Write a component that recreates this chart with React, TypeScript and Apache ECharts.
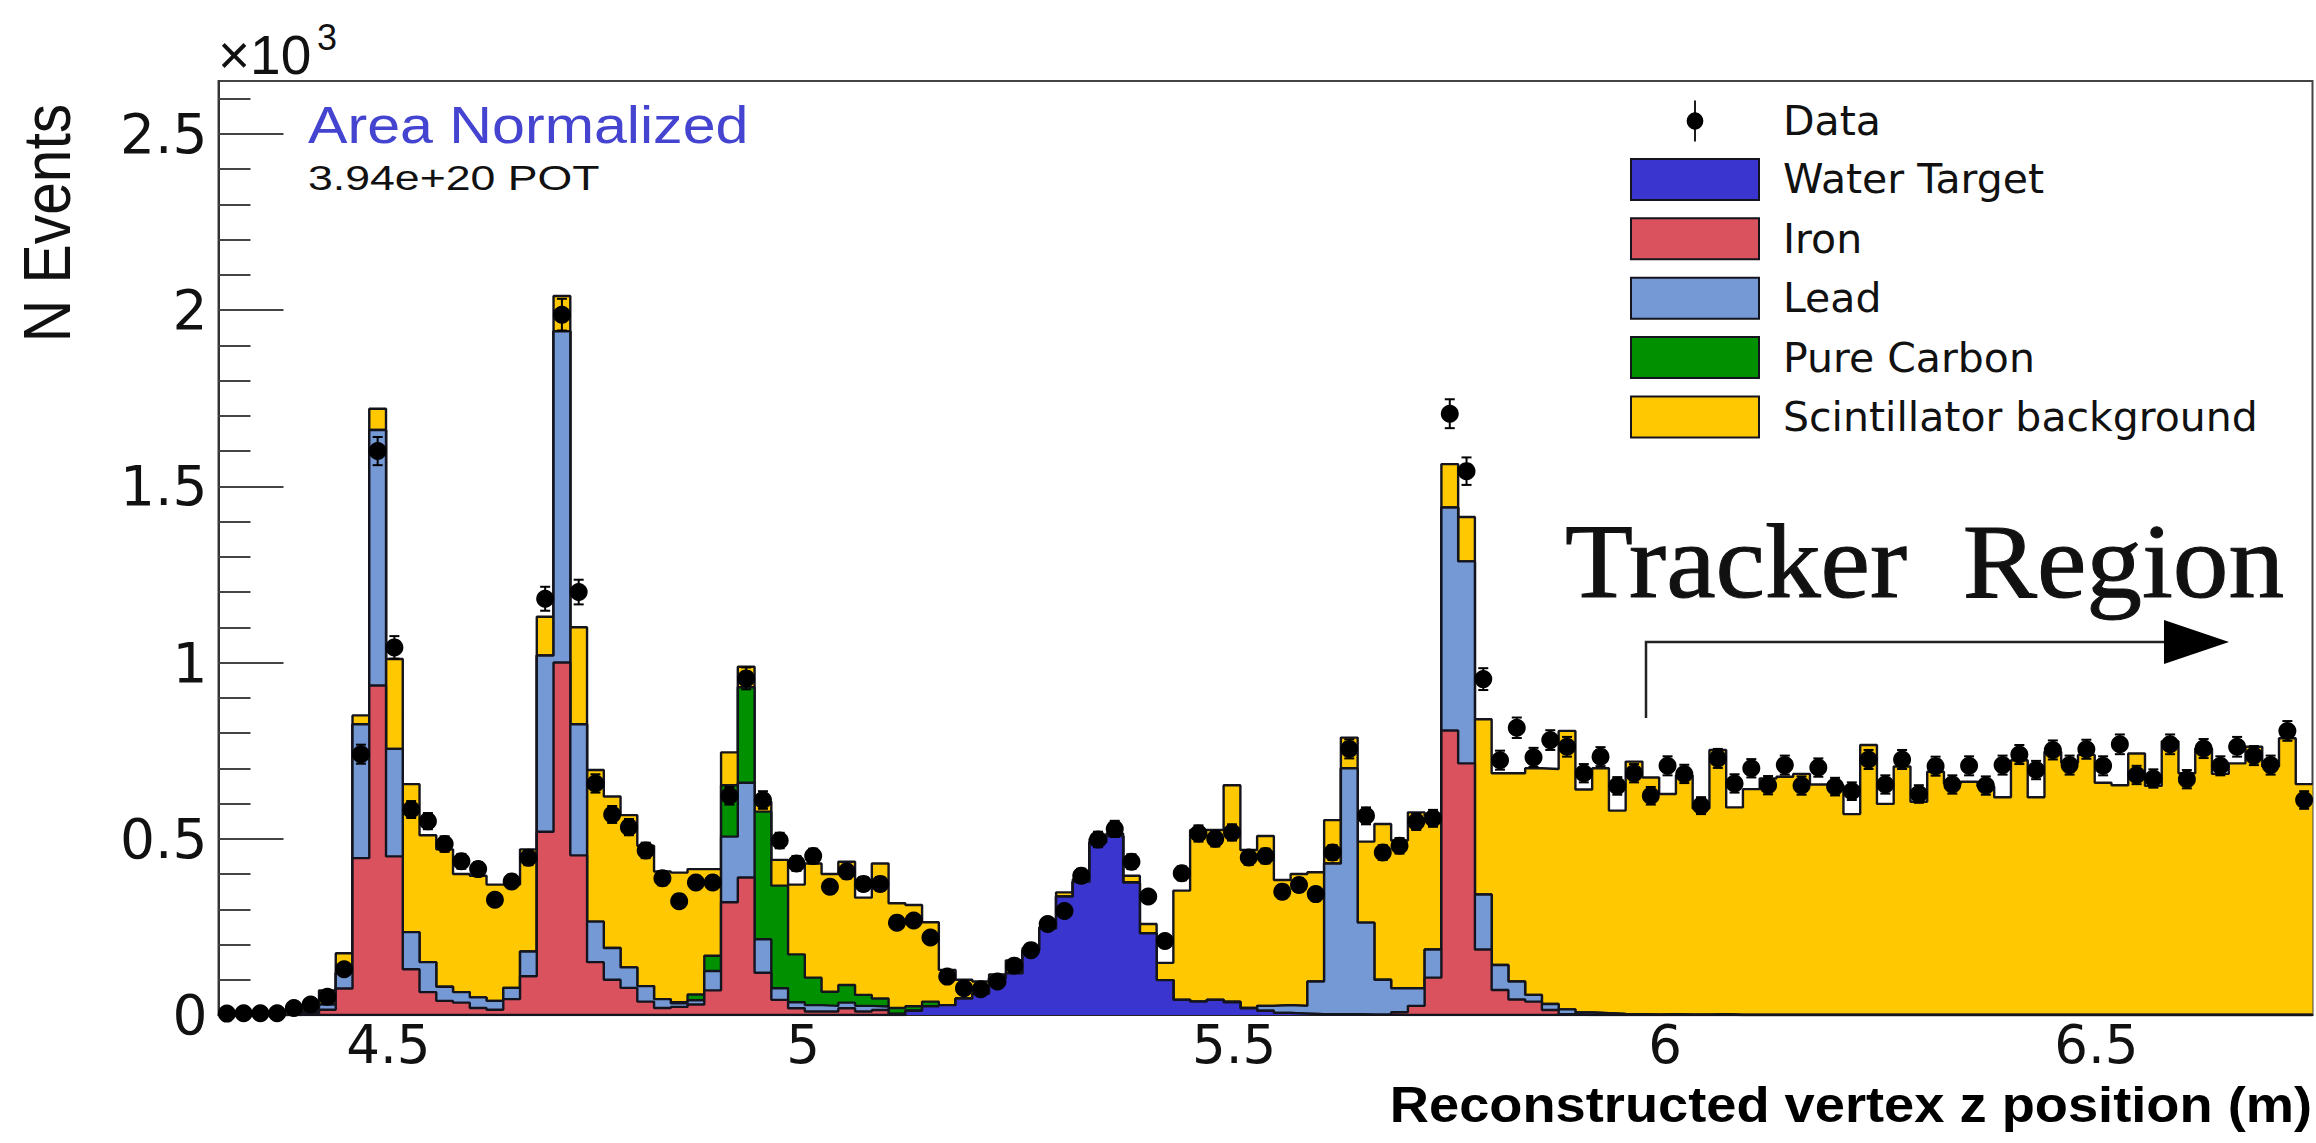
import React, { useEffect, useRef } from 'react';
import * as echarts from 'echarts';

const xMin = 4.322;
const binWidth = 0.01943;
const xMax = xMin + 125 * binWidth;
const yMax = 2.65;
const yTicks = [0, 0.5, 1, 1.5, 2, 2.5];
// the 4.5 label sits a little right of its true spot in the original plot
const xLabelSpots = [4.519, 5, 5.5, 6, 6.5];

// stack heights as THStack keeps them (x10^3 events), each one includes the layers below it
const scintTop = [
  0.002, 0.002, 0.003, 0.005, 0.012, 0.028, 0.07, 0.175, 0.85, 1.72,
  1.01, 0.655, 0.51, 0.47, 0.4, 0.395, 0.37, 0.37, 0.47, 1.13,
  2.04, 1.1, 0.695, 0.62, 0.567, 0.48, 0.407, 0.404, 0.414, 0.414,
  0.745, 0.988, 0.605, 0.44, 0.37, 0.43, 0.4, 0.435, 0.333, 0.43,
  0.317, 0.312, 0.263, 0.128, 0.1, 0.095, 0.115, 0.155, 0.19, 0.25,
  0.348, 0.385, 0.5, 0.515, 0.395, 0.258, 0.148, 0.353, 0.525, 0.525,
  0.652, 0.468, 0.508, 0.383, 0.4, 0.405, 0.553, 0.787, 0.492, 0.542,
  0.495, 0.575, 0.565, 1.563, 1.413, 0.839, 0.686, 0.686, 0.7, 0.698,
  0.806, 0.64, 0.7, 0.58, 0.719, 0.674, 0.627, 0.68, 0.586, 0.752,
  0.589, 0.641, 0.671, 0.676, 0.684, 0.654, 0.652, 0.57, 0.766, 0.599,
  0.705, 0.605, 0.69, 0.657, 0.662, 0.648, 0.618, 0.723, 0.618, 0.747,
  0.716, 0.738, 0.659, 0.652, 0.742, 0.65, 0.777, 0.686, 0.756, 0.684,
  0.714, 0.761, 0.705, 0.785, 0.655,
];
const carbonTop = [
  0, 0, 0, 0, 0.002, 0.01, 0.03, 0.12, 0.825, 1.66,
  0.755, 0.235, 0.15, 0.08, 0.065, 0.05, 0.04, 0.077, 0.18, 1.02,
  1.94, 0.825, 0.265, 0.19, 0.135, 0.082, 0.045, 0.036, 0.058, 0.168,
  0.652, 0.93, 0.577, 0.367, 0.172, 0.106, 0.066, 0.085, 0.057, 0.047,
  0.02, 0.025, 0.038, 0.028, 0.047, 0.06, 0.105, 0.118, 0.184, 0.245,
  0.336, 0.378, 0.49, 0.508, 0.376, 0.232, 0.099, 0.043, 0.038, 0.043,
  0.038, 0.02, 0.026, 0.028, 0.026, 0.095, 0.43, 0.7, 0.262, 0.1,
  0.076, 0.076, 0.186, 1.44, 1.287, 0.342, 0.142, 0.095, 0.057, 0.031,
  0.016, 0.007, 0.005, 0.003, 0.002, 0.001, 0.002, 0.001, 0.001, 0.002,
  0, 0, 0, 0, 0, 0, 0, 0, 0, 0,
  0, 0, 0, 0, 0, 0, 0, 0, 0, 0,
  0, 0, 0, 0, 0, 0, 0, 0, 0, 0,
  0, 0, 0, 0, 0,
];
const leadTop = [
  0, 0, 0, 0, 0.002, 0.01, 0.03, 0.12, 0.825, 1.66,
  0.755, 0.235, 0.15, 0.08, 0.065, 0.05, 0.04, 0.077, 0.18, 1.02,
  1.94, 0.825, 0.265, 0.19, 0.135, 0.082, 0.045, 0.033, 0.042, 0.125,
  0.506, 0.659, 0.215, 0.076, 0.036, 0.028, 0.026, 0.035, 0.026, 0.024,
  0.004, 0.012, 0.025, 0.028, 0.047, 0.06, 0.105, 0.118, 0.184, 0.245,
  0.336, 0.378, 0.49, 0.508, 0.376, 0.232, 0.099, 0.043, 0.038, 0.043,
  0.038, 0.02, 0.026, 0.028, 0.026, 0.095, 0.43, 0.7, 0.262, 0.1,
  0.076, 0.076, 0.186, 1.44, 1.287, 0.342, 0.142, 0.095, 0.057, 0.031,
  0.016, 0.007, 0.005, 0.003, 0.002, 0.001, 0.002, 0.001, 0.001, 0.002,
  0, 0, 0, 0, 0, 0, 0, 0, 0, 0,
  0, 0, 0, 0, 0, 0, 0, 0, 0, 0,
  0, 0, 0, 0, 0, 0, 0, 0, 0, 0,
  0, 0, 0, 0, 0,
];
const ironTop = [
  0, 0, 0, 0, 0, 0.005, 0.015, 0.075, 0.445, 0.935,
  0.45, 0.13, 0.065, 0.04, 0.035, 0.02, 0.015, 0.045, 0.11, 0.52,
  1.0, 0.453, 0.15, 0.1, 0.077, 0.038, 0.02, 0.023, 0.03, 0.07,
  0.32, 0.39, 0.12, 0.043, 0.019, 0.01, 0.01, 0.019, 0.01, 0.014,
  0.003, 0.012, 0.025, 0.028, 0.047, 0.06, 0.105, 0.118, 0.184, 0.245,
  0.336, 0.378, 0.49, 0.508, 0.376, 0.232, 0.099, 0.043, 0.038, 0.043,
  0.036, 0.019, 0.012, 0.006, 0.004, 0.002, 0.002, 0.002, 0.001, 0.001,
  0.008, 0.026, 0.106, 0.807, 0.714, 0.186, 0.071, 0.044, 0.038, 0.014,
  0.002, 0, 0, 0, 0, 0, 0, 0, 0, 0,
  0, 0, 0, 0, 0, 0, 0, 0, 0, 0,
  0, 0, 0, 0, 0, 0, 0, 0, 0, 0,
  0, 0, 0, 0, 0, 0, 0, 0, 0, 0,
  0, 0, 0, 0, 0,
];
const waterTop = [
  0, 0, 0, 0, 0, 0, 0, 0, 0, 0,
  0, 0, 0, 0, 0, 0, 0, 0, 0, 0,
  0, 0, 0, 0, 0, 0, 0, 0, 0, 0,
  0, 0, 0, 0, 0, 0, 0, 0, 0, 0,
  0, 0.012, 0.025, 0.028, 0.047, 0.06, 0.105, 0.118, 0.184, 0.245,
  0.336, 0.378, 0.49, 0.508, 0.376, 0.232, 0.099, 0.043, 0.038, 0.043,
  0.036, 0.019, 0.012, 0.006, 0.004, 0.002, 0.002, 0.002, 0.001, 0.001,
  0, 0, 0, 0, 0, 0, 0, 0, 0, 0,
  0, 0, 0, 0, 0, 0, 0, 0, 0, 0,
  0, 0, 0, 0, 0, 0, 0, 0, 0, 0,
  0, 0, 0, 0, 0, 0, 0, 0, 0, 0,
  0, 0, 0, 0, 0, 0, 0, 0, 0, 0,
  0, 0, 0, 0, 0,
];

const dataValues = [
  0.004, 0.005, 0.005, 0.005, 0.02, 0.03, 0.052, 0.13, 0.74, 1.6,
  1.043, 0.583, 0.55, 0.485, 0.436, 0.414, 0.327, 0.379, 0.446, 1.181,
  1.987, 1.2, 0.657, 0.569, 0.533, 0.467, 0.388, 0.323, 0.376, 0.376,
  0.622, 0.955, 0.61, 0.495, 0.43, 0.451, 0.364, 0.407, 0.372, 0.372,
  0.262, 0.268, 0.22, 0.109, 0.076, 0.073, 0.095, 0.14, 0.184, 0.258,
  0.295, 0.395, 0.498, 0.528, 0.435, 0.336, 0.21, 0.402, 0.515, 0.5,
  0.518, 0.447, 0.451, 0.35, 0.369, 0.343, 0.461, 0.755, 0.565, 0.461,
  0.48, 0.548, 0.558, 1.706, 1.543, 0.953, 0.723, 0.815, 0.731, 0.78,
  0.761, 0.686, 0.733, 0.65, 0.686, 0.622, 0.707, 0.684, 0.594, 0.728,
  0.657, 0.7, 0.652, 0.709, 0.651, 0.702, 0.648, 0.635, 0.725, 0.654,
  0.725, 0.627, 0.706, 0.654, 0.707, 0.651, 0.709, 0.739, 0.695, 0.752,
  0.709, 0.754, 0.707, 0.768, 0.681, 0.671, 0.768, 0.669, 0.756, 0.707,
  0.761, 0.736, 0.709, 0.806, 0.61,
];
const dataErrors = [
  0.002, 0.002, 0.002, 0.002, 0.005, 0.006, 0.007, 0.012, 0.027, 0.04,
  0.032, 0.024, 0.023, 0.022, 0.021, 0.02, 0.018, 0.019, 0.021, 0.034,
  0.045, 0.035, 0.026, 0.024, 0.023, 0.022, 0.02, 0.018, 0.019, 0.019,
  0.025, 0.031, 0.025, 0.022, 0.021, 0.021, 0.019, 0.02, 0.019, 0.019,
  0.016, 0.016, 0.015, 0.01, 0.009, 0.009, 0.01, 0.012, 0.014, 0.016,
  0.017, 0.02, 0.022, 0.023, 0.021, 0.018, 0.014, 0.02, 0.023, 0.022,
  0.023, 0.021, 0.021, 0.019, 0.019, 0.019, 0.021, 0.027, 0.024, 0.021,
  0.022, 0.023, 0.024, 0.041, 0.039, 0.031, 0.027, 0.029, 0.027, 0.028,
  0.028, 0.026, 0.027, 0.025, 0.026, 0.025, 0.027, 0.026, 0.024, 0.027,
  0.026, 0.026, 0.026, 0.027, 0.026, 0.026, 0.025, 0.025, 0.027, 0.026,
  0.027, 0.025, 0.027, 0.026, 0.027, 0.026, 0.027, 0.027, 0.026, 0.027,
  0.027, 0.027, 0.027, 0.028, 0.026, 0.026, 0.028, 0.026, 0.027, 0.027,
  0.028, 0.027, 0.027, 0.028, 0.025,
];

const layers = [
  { name: 'Scintillator background', top: scintTop, color: '#ffc800' },
  { name: 'Pure Carbon', top: carbonTop, color: '#009000' },
  { name: 'Lead', top: leadTop, color: '#7499d4' },
  { name: 'Iron', top: ironTop, color: '#d9525e' },
  { name: 'Water Target', top: waterTop, color: '#3a35cf' },
];
const legendOrder = ['Water Target', 'Iron', 'Lead', 'Pure Carbon', 'Scintillator background'];

const sans = '"Liberation Sans", Arial, sans-serif';
// the original is stretched sideways, DejaVu has about the same proportions
const wideSans = '"DejaVu Sans", sans-serif';

const binLow = (i: number) => xMin + i * binWidth;

const stepData = (top: number[]) => [...top.map((v, i) => [binLow(i), v]), [xMax, top[top.length - 1]]];

const App: React.FC = () => {
  const chartRef = useRef<HTMLDivElement>(null);

  useEffect(() => {
    if (!chartRef.current) return;
    const chart = echarts.init(chartRef.current, null, { renderer: 'svg' });

    const layerSeries = layers.map((l, i) => ({
      name: l.name,
      type: 'line',
      step: 'end',
      z: 2 + i,
      data: stepData(l.top),
      showSymbol: false,
      symbol: 'none',
      silent: true,
      itemStyle: { color: l.color },
      lineStyle: { color: '#14141e', width: 2.4 },
      areaStyle: { color: l.color, opacity: 1 },
    }));

    const errorSeries = {
      name: 'Data errors',
      type: 'custom',
      z: 8,
      silent: true,
      encode: { x: 0, y: 1 },
      data: dataValues.map((v, i) => [binLow(i) + binWidth / 2, v, dataErrors[i]]),
      renderItem: (_: any, api: any) => {
        const x = api.value(0);
        const lo = api.coord([x, api.value(1) - api.value(2)]);
        const hi = api.coord([x, api.value(1) + api.value(2)]);
        const style = { stroke: '#000', lineWidth: 2 };
        return {
          type: 'group',
          children: [
            { type: 'line', shape: { x1: lo[0], y1: lo[1], x2: hi[0], y2: hi[1] }, style },
            { type: 'line', shape: { x1: lo[0] - 5, y1: lo[1], x2: lo[0] + 5, y2: lo[1] }, style },
            { type: 'line', shape: { x1: hi[0] - 5, y1: hi[1], x2: hi[0] + 5, y2: hi[1] }, style },
          ],
        };
      },
    };

    const dataSeries = {
      name: 'Data',
      type: 'scatter',
      z: 9,
      silent: true,
      symbol: 'circle',
      symbolSize: 18,
      itemStyle: { color: '#000', opacity: 1 },
      data: dataValues.map((v, i) => [binLow(i) + binWidth / 2, v]),
    };

    const option = {
      animation: false,
      backgroundColor: '#fff',
      grid: {
        left: 218.5,
        top: 81,
        width: 2094,
        height: 934,
        show: true,
        borderColor: '#444',
        borderWidth: 2,
        backgroundColor: '#fff',
      },
      xAxis: {
        type: 'value',
        min: xMin,
        max: xMax,
        splitLine: { show: false },
        axisLine: { show: true, onZero: false, lineStyle: { color: '#222', width: 2 } },
        axisTick: { show: false },
        axisLabel: {
          customValues: xLabelSpots,
          formatter: (v: number) => String(Math.round(v * 2) / 2),
          fontFamily: wideSans,
          fontSize: 53,
          color: '#111',
          margin: 3,
        },
      },
      yAxis: {
        type: 'value',
        min: 0,
        max: yMax,
        interval: 0.5,
        splitLine: { show: false },
        axisLine: { show: true, onZero: false, lineStyle: { color: '#333', width: 2 } },
        axisTick: { show: true, inside: true, length: 65, customValues: yTicks, lineStyle: { color: '#444', width: 2 } },
        minorTick: { show: true, splitNumber: 5, length: 32, lineStyle: { color: '#444', width: 2 } },
        axisLabel: {
          customValues: yTicks,
          formatter: (v: number) => String(v),
          fontFamily: wideSans,
          fontSize: 55,
          color: '#111',
          margin: 11,
        },
      },
      legend: {
        left: 1630,
        top: 100.5,
        padding: 0,
        orient: 'vertical',
        itemWidth: 128,
        itemHeight: 41,
        itemGap: 16.4,
        selectedMode: false,
        textStyle: { fontFamily: wideSans, fontSize: 41, color: '#111', padding: [0, 0, 0, 19] },
        data: [
          {
            name: 'Data',
            icon: 'path://M9.2 0h1.6v10.6a8 8 0 0 1 0 15.8V37h-1.6V26.4a8 8 0 0 1 0-15.8z',
            itemStyle: { color: '#000', borderWidth: 0 },
          },
          ...legendOrder.map((name) => ({
            name,
            icon: 'rect',
            itemStyle: { borderColor: '#14141e', borderWidth: 2 },
          })),
        ],
      },
      graphic: [
        {
          type: 'text', x: 47, y: 223, rotation: Math.PI / 2, scaleX: 0.89, z: 20,
          style: { text: 'N Events', fontFamily: sans, fontSize: 66, fill: '#111', align: 'center', verticalAlign: 'middle' },
        },
        {
          type: 'text', x: 218, y: 55, z: 20,
          style: { text: '×10', fontFamily: sans, fontSize: 55, fill: '#111', align: 'left', verticalAlign: 'middle' },
        },
        {
          type: 'text', x: 317, y: 37, z: 20,
          style: { text: '3', fontFamily: sans, fontSize: 36, fill: '#111', align: 'left', verticalAlign: 'middle' },
        },
        {
          type: 'text', x: 308, y: 125, scaleX: 1.16, z: 20,
          style: { text: 'Area Normalized', fontFamily: sans, fontSize: 51, fill: '#4444d0', align: 'left', verticalAlign: 'middle' },
        },
        {
          type: 'text', x: 308, y: 178, scaleX: 1.24, z: 20,
          style: { text: '3.94e+20 POT', fontFamily: sans, fontSize: 36, fill: '#111', align: 'left', verticalAlign: 'middle' },
        },
        {
          type: 'text', x: 1565, y: 561, scaleX: 1.05, z: 20,
          style: { text: 'Tracker  Region', fontFamily: '"Liberation Serif", serif', fontSize: 106, fill: '#111', stroke: '#111', lineWidth: 1, align: 'left', verticalAlign: 'middle' },
        },
        {
          type: 'polyline', z: 20,
          shape: { points: [[1646, 718], [1646, 642], [2166, 642]] },
          style: { fill: 'none', stroke: '#222', lineWidth: 2.5 },
        },
        {
          type: 'polygon', z: 20,
          shape: { points: [[2164, 620], [2229, 642], [2164, 664]] },
          style: { fill: '#000' },
        },
        {
          type: 'text', x: 2312, y: 1105, scaleX: 1.085, z: 20,
          style: { text: 'Reconstructed vertex z position (m)', fontFamily: sans, fontWeight: 'bold', fontSize: 50, fill: '#000', align: 'right', verticalAlign: 'middle' },
        },
      ],
      series: [...layerSeries, errorSeries, dataSeries],
    };

    chart.setOption(option);

    return () => {
      chart.dispose();
    };
  }, []);

  return <div ref={chartRef} style={{ position: 'fixed', left: 0, top: 0, width: 2316, height: 1143 }}></div>;
};

export default App;
